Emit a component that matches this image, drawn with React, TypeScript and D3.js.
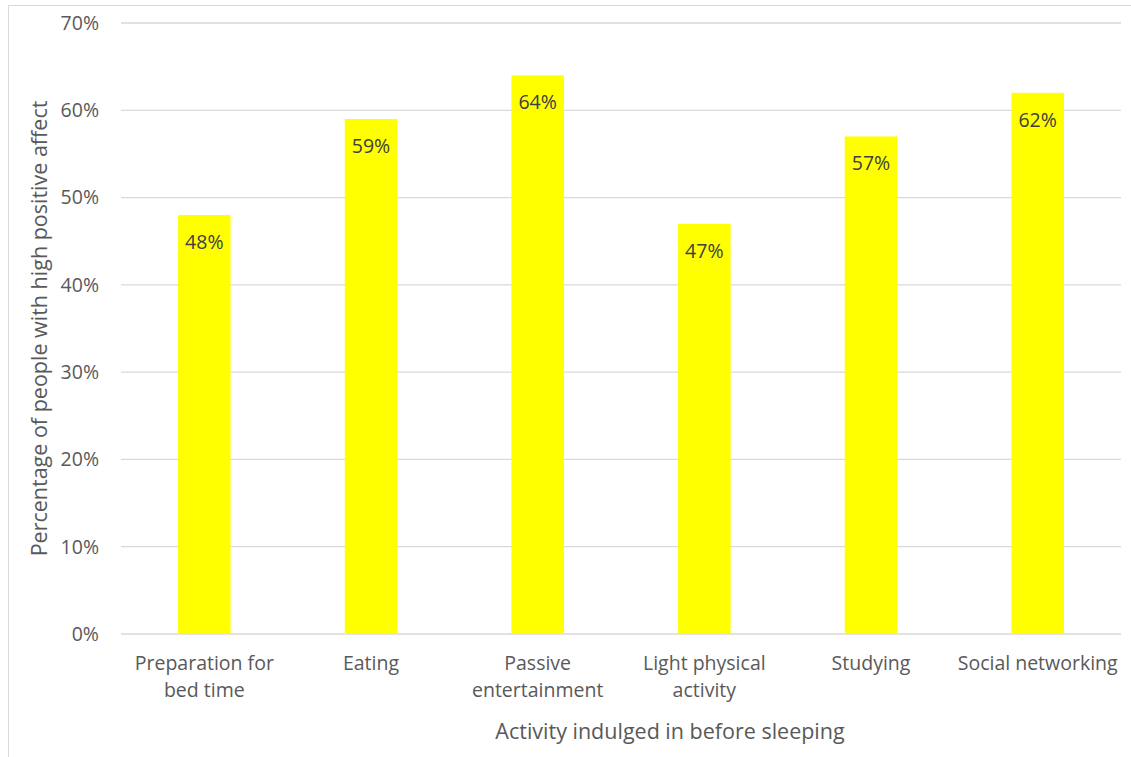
import React from "react";
import * as d3 from "d3";

const categories: string[][] = [
  ["Preparation for", "bed time"],
  ["Eating"],
  ["Passive", "entertainment"],
  ["Light physical", "activity"],
  ["Studying"],
  ["Social networking"],
];
const values: number[] = [0.48, 0.59, 0.64, 0.47, 0.57, 0.62];
const yTicks: number[] = [0, 0.1, 0.2, 0.3, 0.4, 0.5, 0.6, 0.7];
const xTitle = "Activity indulged in before sleeping";
const yTitle = "Percentage of people with high positive affect";

const W = 1131;
const H = 757;
const FONT = "'Open Sans', sans-serif";

export default function App() {
  const left = 121;
  const right = 1121;
  const top = 23;
  const bottom = 634;
  const x = d3
    .scaleBand<number>()
    .domain(categories.map((_, i) => i))
    .range([left, right])
    .paddingInner(0.685)
    .paddingOuter(0.3425);
  const y = d3.scaleLinear().domain([0, 0.7]).range([bottom, top]);
  const fmt = d3.format(".0%");
  return (
    <svg
      width={W}
      height={H}
      style={{ position: "absolute", left: 0, top: 0, background: "#fff" }}
      fontFamily={FONT}
    >
      <rect x={8.5} y={5.5} width={W + 10} height={H + 10} fill="#fff" stroke="#d9d9d9" strokeWidth={1} />
      {yTicks.map((t) => (
        <g key={t}>
          <line x1={left} x2={right} y1={y(t)} y2={y(t)} stroke="#d9d9d9" strokeWidth={1.3} />
          <text x={99} y={y(t)} dy="0.35em" textAnchor="end" fontSize={19.5} fill="#595959">
            {fmt(t)}
          </text>
        </g>
      ))}
      {values.map((v, i) => (
        <g key={i}>
          <rect x={x(i)} y={y(v)} width={x.bandwidth()} height={bottom - y(v)} fill="#ffff00" />
          <text
            x={(x(i) as number) + x.bandwidth() / 2}
            y={y(v) + 27}
            dy="0.35em"
            textAnchor="middle"
            fontSize={19.5}
            fill="#404040"
          >
            {fmt(v)}
          </text>
        </g>
      ))}
      {categories.map((lines, i) => (
        <text
          key={i}
          x={(x(i) as number) + x.bandwidth() / 2}
          textAnchor="middle"
          fontSize={19.5}
          fill="#595959"
        >
          {lines.map((l, j) => (
            <tspan key={j} x={(x(i) as number) + x.bandwidth() / 2} y={670 + j * 27}>
              {l}
            </tspan>
          ))}
        </text>
      ))}
      <text x={670} y={739} textAnchor="middle" fontSize={21.5} fill="#595959">
        {xTitle}
      </text>
      <text
        transform={`translate(47,${(top + bottom) / 2}) rotate(-90)`}
        textAnchor="middle"
        fontSize={21.5}
        fill="#595959"
      >
        {yTitle}
      </text>
    </svg>
  );
}
